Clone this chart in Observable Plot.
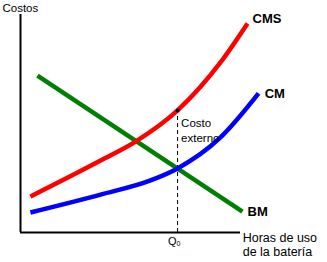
<!DOCTYPE html>
<html>
<head>
<meta charset="utf-8">
<script src="https://cdn.jsdelivr.net/npm/d3@7"></script>
<script src="https://cdn.jsdelivr.net/npm/@observablehq/plot@0.6"></script>
<style>
  html, body { margin: 0; padding: 0; background: #fff; }
  #chart svg { display: block; }
</style>
</head>
<body>
<div id="chart"></div>
<script>
// Costo marginal social (CMS)
const cmsX = [0.45, 3.64, 5.23, 7.14, 9.09, 10.32];
const cmsY = [1.65, 3.30, 4.17, 5.60, 7.80, 9.59];
// Costo marginal privado (CM)
const cmX = [0.45, 3.64, 5.91, 7.14, 9.09, 10.82];
const cmY = [0.92, 1.74, 2.39, 2.94, 4.36, 6.38];
// Beneficio marginal (BM)
const bmX = [0.77, 10.09];
const bmY = [7.20, 0.96];
// Cantidad de equilibrio
const q0 = 7.14;
const q0Cms = 5.60;

const cms = cmsX.map((x, i) => ({x, y: cmsY[i]}));
const cm = cmX.map((x, i) => ({x, y: cmY[i]}));
const bm = bmX.map((x, i) => ({x, y: bmY[i]}));

const font = "'Liberation Sans', Arial, sans-serif";

const chart = Plot.plot({
  width: 327,
  height: 262,
  marginLeft: 20,
  marginRight: 87,
  marginTop: 14,
  marginBottom: 30,
  style: {fontFamily: font, background: "#fff", color: "#000"},
  x: {domain: [0, 10], axis: null},
  y: {domain: [0, 10], axis: null},
  marks: [
    // axes
    Plot.ruleX([0], {y1: 0, y2: 10, stroke: "#000", strokeWidth: 2}),
    Plot.ruleY([0], {x1: 0, x2: 10, stroke: "#000", strokeWidth: 2}),
    // dashed line at Q0
    Plot.ruleX([q0], {y1: 0, y2: q0Cms, stroke: "#000", strokeWidth: 1, strokeDasharray: "4,3"}),
    // curves
    Plot.line(bm, {x: "x", y: "y", stroke: "#008000", strokeWidth: 4.5, strokeLinecap: "butt"}),
    Plot.line(cms, {x: "x", y: "y", stroke: "#ff0000", strokeWidth: 4.5, curve: "monotone-x", strokeLinecap: "butt"}),
    Plot.line(cm, {x: "x", y: "y", stroke: "#0000ff", strokeWidth: 4.5, curve: "monotone-x", strokeLinecap: "butt"}),
    Plot.dot([{x: q0, y: q0Cms}], {x: "x", y: "y", r: 2, fill: "#000", stroke: null}),
    // labels
    Plot.text(["CMS"], {x: 10.55, y: 9.8, text: d => d, textAnchor: "start", fontWeight: "bold", fontSize: 13, fill: "#000"}),
    Plot.text(["CM"], {x: 11.1, y: 6.35, text: d => d, textAnchor: "start", fontWeight: "bold", fontSize: 13, fill: "#000"}),
    Plot.text(["BM"], {x: 10.32, y: 0.93, text: d => d, textAnchor: "start", fontWeight: "bold", fontSize: 13, fill: "#000"}),
    Plot.text(["Costo\nexterno"], {x: 7.3, y: 4.7, text: d => d, textAnchor: "start", fontSize: 11.5, lineHeight: 1.3, fill: "#000"}),
    Plot.text(["Costos"], {x: -0.82, y: 10.27, text: d => d, textAnchor: "start", fontSize: 11.5, fill: "#000"}),
    Plot.text(["Horas de uso\nde la batería"], {x: 10.1, y: 0.02, text: d => d, textAnchor: "start", lineAnchor: "top", fontSize: 12.5, lineHeight: 1.12, fill: "#000"}),
    Plot.text(["Q"], {x: q0 - 0.05, y: -0.42, text: d => d, textAnchor: "end", fontSize: 11, fill: "#000"}),
    Plot.text(["0"], {x: q0 - 0.05, y: -0.5, text: d => d, textAnchor: "start", fontSize: 7, fill: "#000"})
  ]
});

document.getElementById("chart").appendChild(chart);
</script>
</body>
</html>
